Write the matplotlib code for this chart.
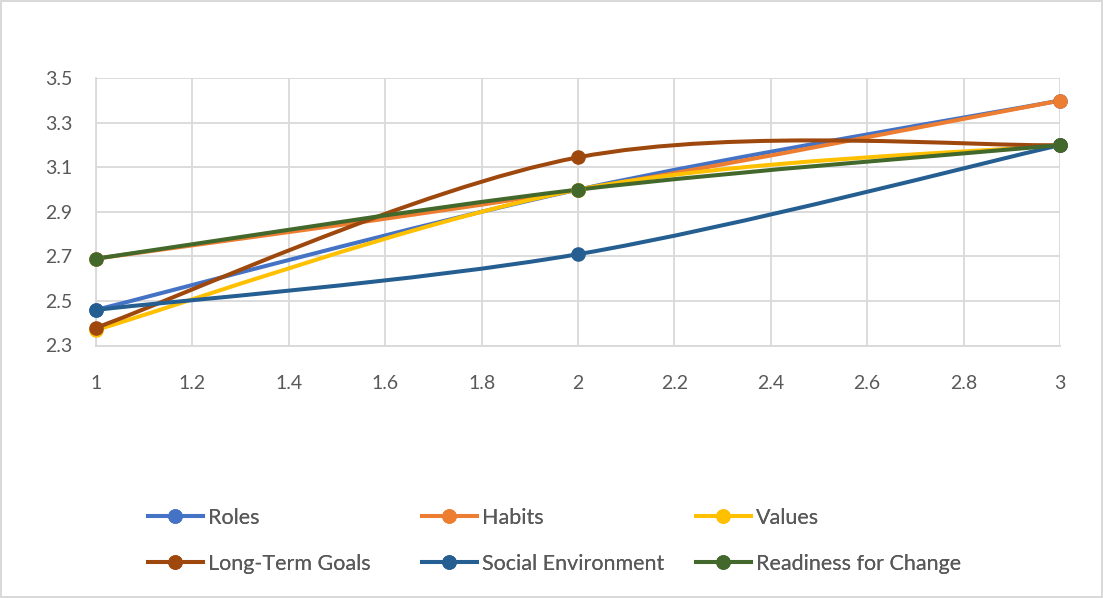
import numpy as np
import matplotlib
matplotlib.use('Agg')
import matplotlib.pyplot as plt
from matplotlib.path import Path
from matplotlib.patches import PathPatch
from matplotlib.lines import Line2D

plt.rcParams['font.family'] = ['Lato', 'DejaVu Sans']

# data
x_vals = [1, 2, 3]
series_names = ['Roles', 'Habits', 'Values', 'Long-Term Goals', 'Social Environment', 'Readiness for Change']
roles = [2.46, 3.00, 3.40]
habits = [2.69, 3.00, 3.40]
values = [2.37, 3.00, 3.20]
long_term_goals = [2.38, 3.145, 3.20]
social_env = [2.46, 2.71, 3.20]
readiness = [2.69, 3.00, 3.20]
colors = ['#4472C4', '#ED7D31', '#FFC000', '#9E480E', '#255E91', '#43682B']
x_ticks = [1, 1.2, 1.4, 1.6, 1.8, 2, 2.2, 2.4, 2.6, 2.8, 3]
y_ticks = [2.3, 2.5, 2.7, 2.9, 3.1, 3.3, 3.5]

all_series = [roles, habits, values, long_term_goals, social_env, readiness]

TEXT = '#595959'
GRID = '#D9D9D9'


def smooth_path(xs, ys):
    # excel-like smoothed line: cubic bezier with catmull-rom control points
    pts = np.column_stack([xs, ys]).astype(float)
    n = len(pts)
    verts = [pts[0]]
    codes = [Path.MOVETO]
    for i in range(n - 1):
        p_prev = pts[max(i - 1, 0)]
        p0 = pts[i]
        p1 = pts[i + 1]
        p_next = pts[min(i + 2, n - 1)]
        c1 = p0 + (p1 - p_prev) / 6.0
        c2 = p1 - (p_next - p0) / 6.0
        verts += [c1, c2, p1]
        codes += [Path.CURVE4] * 3
    return Path(verts, codes)


fig = plt.figure(figsize=(11.03, 5.98), dpi=100)
fig.patch.set_edgecolor(GRID)
fig.patch.set_linewidth(1.5)
ax = fig.add_axes([96 / 1103, 1 - 345.5 / 598, (1060 - 96) / 1103, (345.5 - 78.3) / 598])

lw = 2.9
for name, ys, col in zip(series_names, all_series, colors):
    patch = PathPatch(smooth_path(x_vals, ys), facecolor='none', edgecolor=col,
                      linewidth=lw, capstyle='round', joinstyle='round', zorder=3)
    ax.add_patch(patch)
    ax.plot(x_vals, ys, linestyle='none', marker='o', markersize=9.5,
            color=col, zorder=4, clip_on=False)

ax.set_xlim(1, 3)
ax.set_ylim(2.3, 3.5)
ax.set_xticks(x_ticks)
ax.set_xticklabels([f'{t:g}' for t in x_ticks])
ax.set_yticks(y_ticks)
ax.set_yticklabels([f'{t:g}' for t in y_ticks])
ax.grid(True, color=GRID, linewidth=1.3, zorder=0)
ax.set_axisbelow(True)
for side in ['top', 'right']:
    ax.spines[side].set_visible(False)
for side in ['left', 'bottom']:
    ax.spines[side].set_color(GRID)
    ax.spines[side].set_linewidth(1.3)
ax.tick_params(length=0, labelsize=14, labelcolor=TEXT)
ax.tick_params(axis='x', pad=21)
ax.tick_params(axis='y', pad=17)

# legend: three fixed-width columns like excel
handles = [Line2D([], [], color=c, linewidth=lw, marker='o', markersize=9.5) for c in colors]
col_x = [148, 422, 696]
for j in range(3):
    idx = [j, j + 3]
    leg = fig.legend([handles[i] for i in idx], [series_names[i] for i in idx],
                     loc='upper left', bbox_to_anchor=(col_x[j] / 1103, 1 - 508 / 598),
                     frameon=False, fontsize=15.5, labelcolor=TEXT,
                     handlelength=2.55, handletextpad=0.22, labelspacing=1.2,
                     borderpad=0, borderaxespad=0)
    fig.add_artist(leg)

fig.savefig('out.png', dpi=100)
